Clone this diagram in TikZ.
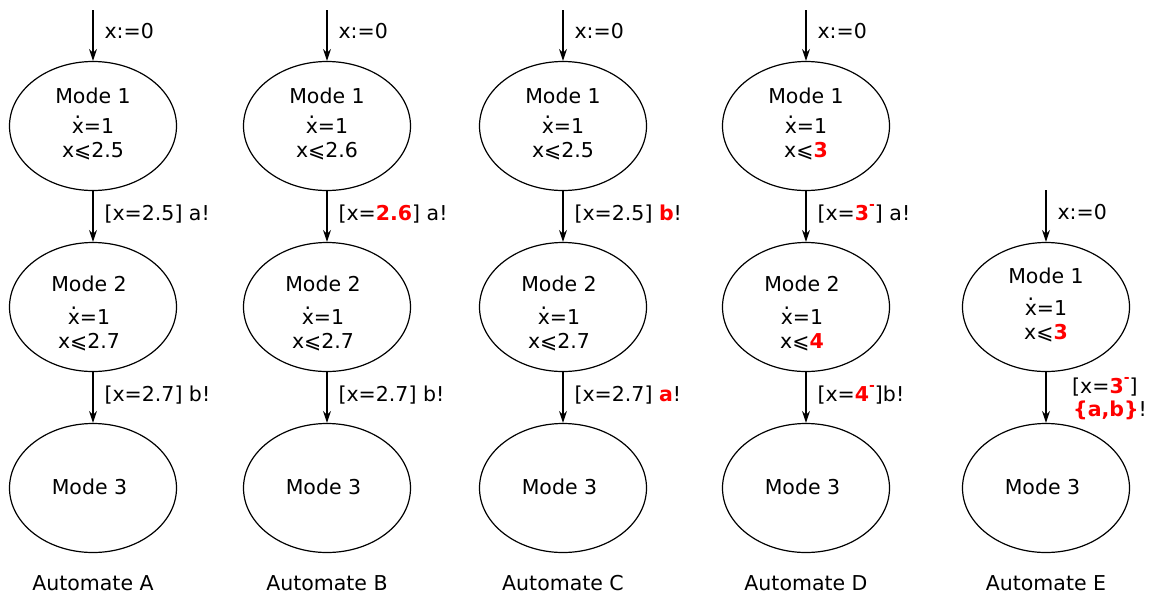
\documentclass[tikz,border=0pt]{standalone}
\usepackage{fontspec}
\setmainfont{DejaVu Sans}
\usetikzlibrary{arrows.meta,shapes.geometric}
\newcommand{\rb}[1]{\textcolor{red}{\bfseries #1}}
\newcommand{\xd}{\makebox[0pt][l]{\hspace{0.137em}\smash{\raisebox{0.72em}{.}}}x}
\newcommand{\sm}{\smash{\raisebox{0.53em}{\fontsize{14}{14}\selectfont\bfseries -}}}
% three base-aligned text lines inside an ellipse
\newcommand{\mtext}[8]{%
  \node[tline] (#1a) at ([shift={(#2,#3)}]#1) {#6};
  \node[tline] (#1b) at ([shift={(#2,#4)}]#1) {#7};
  \node[tline] (#1c) at ([shift={(#2,#5)}]#1) {#8};}
\begin{document}
\begin{tikzpicture}[x=1pt,y=-1pt,
  font=\fontsize{20.5}{25}\selectfont,
  mode/.style={draw, ellipse, line width=1.2pt, minimum width=167pt, minimum height=129pt, inner sep=0pt},
  tline/.style={anchor=base, inner sep=0pt},
  tr/.style={-{Stealth[length=12pt,width=8pt]}, line width=1.2pt},
  lab/.style={anchor=west, inner sep=0pt, xshift=11pt},
  autlabel/.style={anchor=center, inner sep=0pt}]
\useasboundingbox (0,0) rectangle (1152,595);
% Automate A
\node[mode] (A1) at (93,126) {};
\node[mode] (A2) at (93,307) {};
\node[mode] (A3) at (93,488) {};
\mtext{A1}{0}{-23}{7}{31}{Mode 1}{\xd=1}{x⩽2.5}
\mtext{A2}{-4}{-16}{17}{41}{Mode 2}{\xd=1}{x⩽2.7}
\node[tline] (A3a) at ([shift={(-3.5,6)}]A3) {Mode 3};
\coordinate (A0) at (93,10);
\draw[tr] (A0) -- node[lab,pos=0.42] {x:=0} (A1);
\draw[tr] (A1) -- node[lab,pos=0.45] {[x=2.5] a!} (A2);
\draw[tr] (A2) -- node[lab,pos=0.45] {[x=2.7] b!} (A3);
\node[autlabel] (AL) at (93,583) {Automate A};
% Automate B
\node[mode] (B1) at (327,126) {};
\node[mode] (B2) at (327,307) {};
\node[mode] (B3) at (327,488) {};
\mtext{B1}{0}{-23}{7}{31}{Mode 1}{\xd=1}{x⩽2.6}
\mtext{B2}{-4}{-16}{17}{41}{Mode 2}{\xd=1}{x⩽2.7}
\node[tline] (B3a) at ([shift={(-3.5,6)}]B3) {Mode 3};
\coordinate (B0) at (327,10);
\draw[tr] (B0) -- node[lab,pos=0.42] {x:=0} (B1);
\draw[tr] (B1) -- node[lab,pos=0.45] {[x=\rb{2.6}] a!} (B2);
\draw[tr] (B2) -- node[lab,pos=0.45] {[x=2.7] b!} (B3);
\node[autlabel] (BL) at (327,583) {Automate B};
% Automate C
\node[mode] (C1) at (563,126) {};
\node[mode] (C2) at (563,307) {};
\node[mode] (C3) at (563,488) {};
\mtext{C1}{0}{-23}{7}{31}{Mode 1}{\xd=1}{x⩽2.5}
\mtext{C2}{-4}{-16}{17}{41}{Mode 2}{\xd=1}{x⩽2.7}
\node[tline] (C3a) at ([shift={(-3.5,6)}]C3) {Mode 3};
\coordinate (C0) at (563,10);
\draw[tr] (C0) -- node[lab,pos=0.42] {x:=0} (C1);
\draw[tr] (C1) -- node[lab,pos=0.45] {[x=2.5] \rb{b}!} (C2);
\draw[tr] (C2) -- node[lab,pos=0.45] {[x=2.7] \rb{a}!} (C3);
\node[autlabel] (CL) at (563,583) {Automate C};
% Automate D
\node[mode] (D1) at (806,126) {};
\node[mode] (D2) at (806,307) {};
\node[mode] (D3) at (806,488) {};
\mtext{D1}{0}{-23}{7}{31}{Mode 1}{\xd=1}{x⩽\rb{3}}
\mtext{D2}{-4}{-16}{17}{41}{Mode 2}{\xd=1}{x⩽\rb{4}}
\node[tline] (D3a) at ([shift={(-3.5,6)}]D3) {Mode 3};
\coordinate (D0) at (806,10);
\draw[tr] (D0) -- node[lab,pos=0.42] {x:=0} (D1);
\draw[tr] (D1) -- node[lab,pos=0.45] {[x=\rb{3\sm}] a!} (D2);
\draw[tr] (D2) -- node[lab,pos=0.45] {[x=\rb{4\sm}]b!} (D3);
\node[autlabel] (DL) at (806,583) {Automate D};
% Automate E
\node[mode] (E1) at (1046,307) {};
\node[mode] (E3) at (1046,488) {};
\mtext{E1}{0}{-24}{8}{32}{Mode 1}{\xd=1}{x⩽\rb{3}}
\node[tline] (E3a) at ([shift={(-3.5,6)}]E3) {Mode 3};
\coordinate (E0) at (1046,190);
\draw[tr] (E0) -- node[lab,pos=0.42] {x:=0} (E1);
\draw[tr] (E1) -- (E3);
\node[anchor=base west, inner sep=0pt] (E13a) at (1072,393) {[x=\rb{3\sm}]};
\node[anchor=base west, inner sep=0pt] (E13b) at (1073,416) {\rb{\{a,b\}}!};
\node[autlabel] (EL) at (1046,583) {Automate E};
\end{tikzpicture}
\end{document}
